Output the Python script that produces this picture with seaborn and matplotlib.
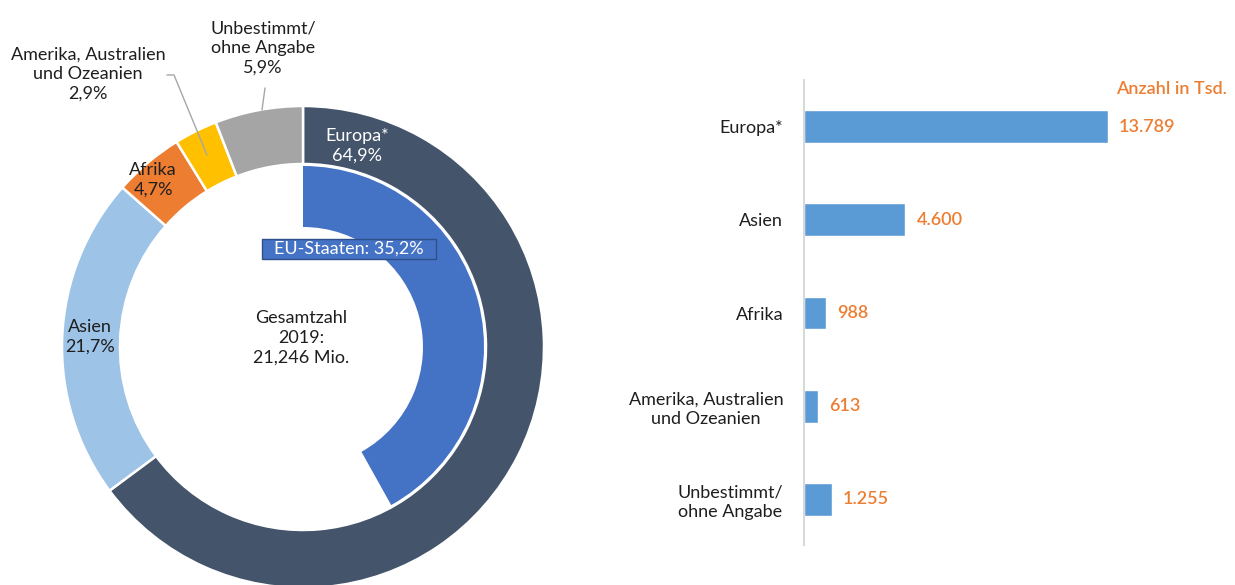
import matplotlib
matplotlib.use("Agg")
import matplotlib.pyplot as plt
import seaborn as sns
import pandas as pd
from matplotlib.patches import Rectangle

# ---------------- data ----------------
donut_labels = ["Europa*", "Asien", "Afrika", "Amerika, Australien\nund Ozeanien", "Unbestimmt/\nohne Angabe"]
donut_shares = [64.9, 21.7, 4.7, 2.9, 5.9]
donut_share_text = ["64,9%", "21,7%", "4,7%", "2,9%", "5,9%"]
donut_colors = ["#44546A", "#9DC3E6", "#ED7D31", "#FFC000", "#A5A5A5"]

eu_label = "EU-Staaten: 35,2%"
eu_arc_share = 41.9          # arc length of the inner EU ring as drawn in the picture (% of circle)
eu_color = "#4472C4"

total_text = "Gesamtzahl\n2019:\n21,246 Mio."

bar_regions = ["Europa*", "Asien", "Afrika", "Amerika, Australien\nund Ozeanien", "Unbestimmt/\nohne Angabe"]
bar_values = [13789, 4600, 988, 613, 1255]
bar_value_text = ["13.789", "4.600", "988", "613", "1.255"]
bar_unit = "Anzahl in Tsd."

# ---------------- style ----------------
sns.set_theme(style="white")
plt.rcParams["font.family"] = ["Lato", "DejaVu Sans"]
TXT = "#1e1e1e"
ORANGE = "#ED7D31"
BAR = "#5B9BD5"
FS = 13

W, H = 1235, 585
fig = plt.figure(figsize=(W / 100, H / 100), dpi=100)

# donut axes in pixel coordinates (y measured from bottom)
ax = fig.add_axes([0, 0, 1, 1])
cx, cy = 303, H - 347
R_out, w_out = 241, 58
R_in, w_in = 181, 61

ax.pie(donut_shares, radius=R_out, center=(cx, cy), startangle=90, counterclock=False,
       colors=donut_colors, wedgeprops=dict(width=w_out, edgecolor="white", linewidth=1.8))
ax.pie([eu_arc_share, 100 - eu_arc_share], radius=R_in, center=(cx, cy), startangle=90,
       counterclock=False, colors=[eu_color, "none"],
       wedgeprops=dict(width=w_in, edgecolor="none", linewidth=0))
ax.set_xlim(0, W)
ax.set_ylim(0, H)
ax.set_aspect("auto")
ax.axis("off")


def px(x, y):
    return x, H - y


ls = 1.28
# outer labels
ax.text(*px(263, 48), donut_labels[4] + "\n" + donut_share_text[4], ha="center", va="center",
        fontsize=FS, color=TXT, linespacing=ls)
ax.text(*px(88, 74), donut_labels[3] + "\n" + donut_share_text[3], ha="center", va="center",
        fontsize=FS, color=TXT, linespacing=ls)
# leader lines
ax.plot([265, 262], [H - 88, H - 110], color="#A6A6A6", lw=1)
ax.plot([167, 174, 207], [H - 75, H - 75, H - 155], color="#A6A6A6", lw=1)
# inside labels
ax.text(*px(357, 146), donut_labels[0] + "\n" + donut_share_text[0], ha="center", va="center",
        fontsize=FS, color="white", linespacing=ls)
ax.text(*px(153, 180), donut_labels[2] + "\n" + donut_share_text[2], ha="center", va="center",
        fontsize=FS, color=TXT, linespacing=ls)
ax.text(*px(90, 337), donut_labels[1] + "\n" + donut_share_text[1], ha="center", va="center",
        fontsize=FS, color=TXT, linespacing=ls)
ax.text(*px(301, 338), total_text, ha="center", va="center",
        fontsize=FS, color=TXT, linespacing=ls)
# EU box
ax.add_patch(Rectangle((262, H - 259), 174, 20, facecolor=eu_color, edgecolor="#2F4F8A", lw=1))
ax.text(*px(349, 249), eu_label, ha="center", va="center", fontsize=FS, color="white")

# ---------------- bar chart ----------------
df = pd.DataFrame({"region": bar_regions, "value": bar_values})
axb = fig.add_axes([804 / W, (H - 545) / H, 431 / W, 465 / H])
axb.set_facecolor("none")
sns.barplot(data=df, x="value", y="region", orient="h", color=BAR, saturation=1,
            width=0.35, ax=axb)
axb.set_xlim(0, 13789 * 431 / 304)
axb.set_ylim(4.488, -0.499)
axb.bar_label(axb.containers[0], labels=bar_value_text, padding=8, color=ORANGE, fontsize=FS,
              fontweight="semibold")
axb.set_xlabel("")
axb.set_ylabel("")
axb.set_xticks([])
for s in ["top", "right", "bottom"]:
    axb.spines[s].set_visible(False)
axb.spines["left"].set_color("#D9D9D9")
axb.spines["left"].set_linewidth(1.5)
axb.tick_params(axis="y", length=0, pad=15, labelsize=FS, labelcolor=TXT)
for t in axb.get_yticklabels():
    t.set_multialignment("center")
    t.set_linespacing(1.22)

fig.text(1116 / W, 1 - 89 / H, bar_unit, ha="left", va="center", fontsize=FS,
         color=ORANGE, fontweight="semibold")

fig.savefig("out.png", dpi=100)
